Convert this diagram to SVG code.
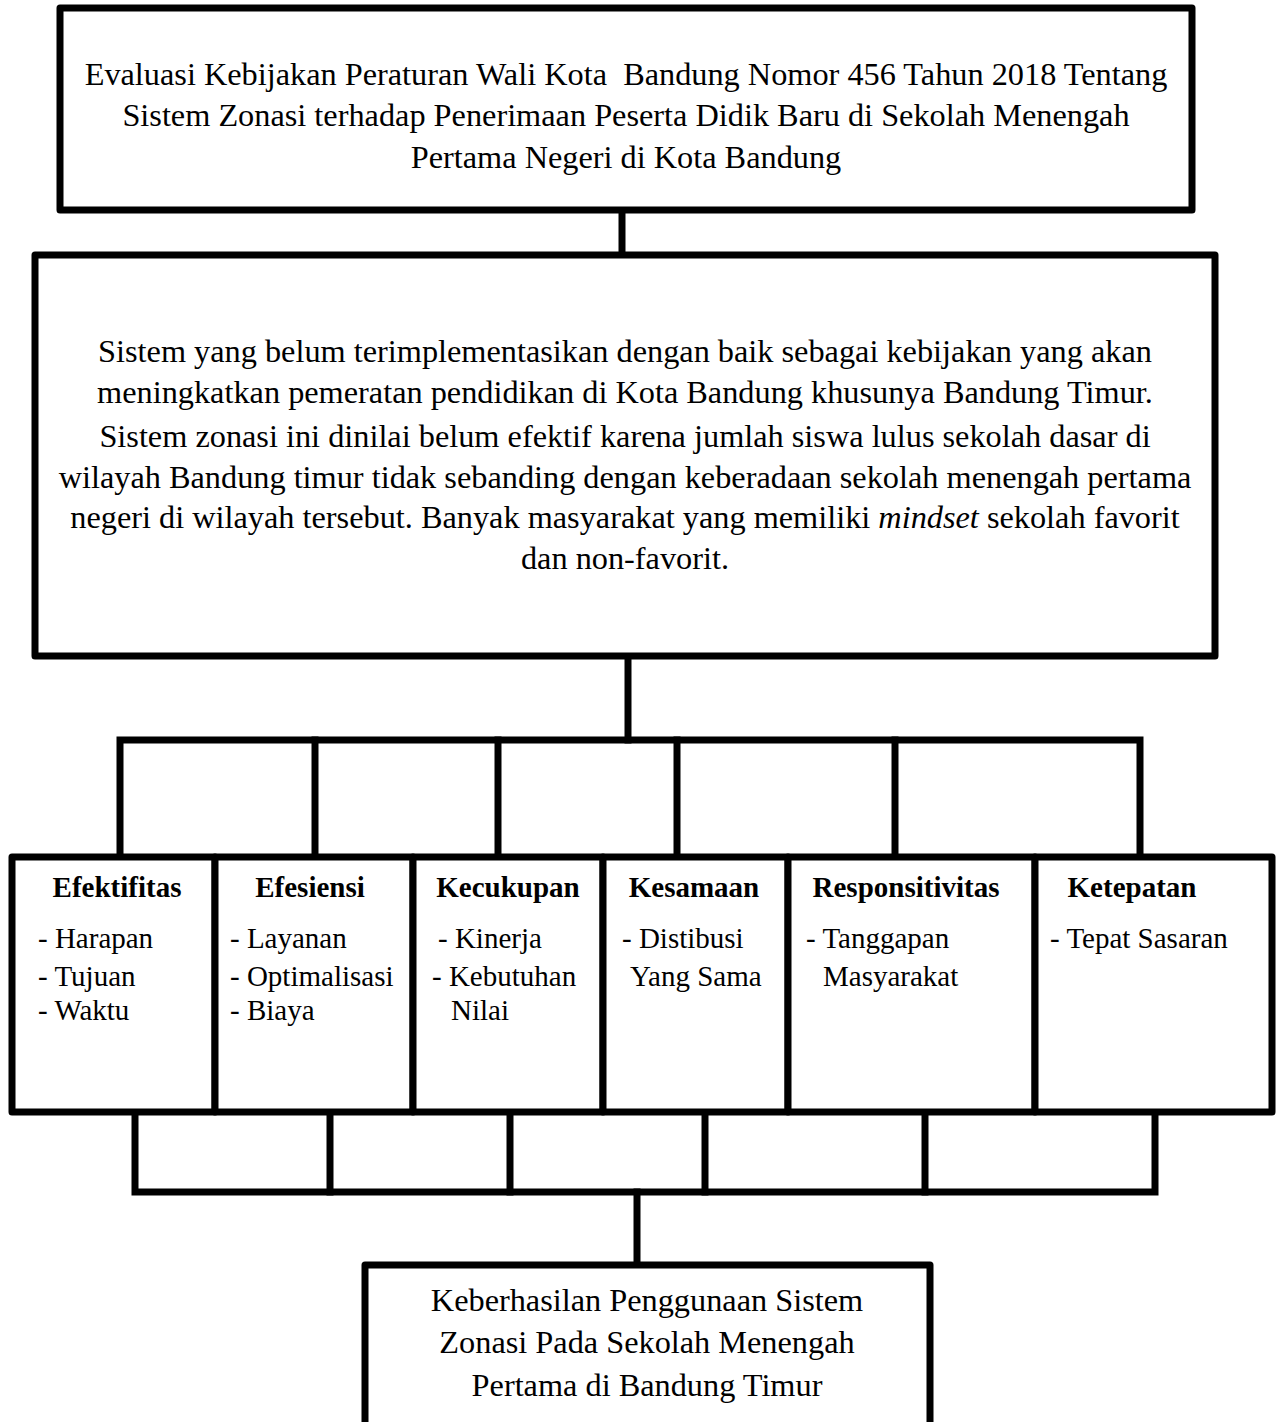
<svg xmlns="http://www.w3.org/2000/svg" width="1278" height="1422" viewBox="0 0 1278 1422">
<style>
.box{fill:#fff;stroke:#000;stroke-width:7;stroke-linejoin:round}
.ln{fill:none;stroke:#000;stroke-width:7;stroke-linejoin:miter;stroke-linecap:square}
text{font-family:"Liberation Serif","Times New Roman",serif;font-size:29px;fill:#000}
.c{text-anchor:middle;font-size:32.3px}
.h{font-weight:bold;text-anchor:middle}
</style>
<g id="connectors">
<line class="ln" x1="622" y1="210" x2="622" y2="255"/>
<line class="ln" x1="628" y1="656" x2="628" y2="740"/>
<polyline class="ln" points="120,857 120,740 1140,740 1140,857"/>
<line class="ln" x1="315" y1="740" x2="315" y2="857"/>
<line class="ln" x1="498" y1="740" x2="498" y2="857"/>
<line class="ln" x1="677" y1="740" x2="677" y2="857"/>
<line class="ln" x1="895" y1="740" x2="895" y2="857"/>
<polyline class="ln" points="135,1112 135,1192 1155,1192 1155,1112"/>
<line class="ln" x1="330" y1="1112" x2="330" y2="1192"/>
<line class="ln" x1="510" y1="1112" x2="510" y2="1192"/>
<line class="ln" x1="705" y1="1112" x2="705" y2="1192"/>
<line class="ln" x1="925" y1="1112" x2="925" y2="1192"/>
<line class="ln" x1="637" y1="1192" x2="637" y2="1265"/>
</g>
<g id="n-title">
<rect class="box" x="60" y="8" width="1132" height="202"/>
<text class="c" x="626" y="85" xml:space="preserve">Evaluasi Kebijakan Peraturan Wali Kota  Bandung Nomor 456 Tahun 2018 Tentang</text>
<text class="c" x="626" y="126">Sistem Zonasi terhadap Penerimaan Peserta Didik Baru di Sekolah Menengah</text>
<text class="c" x="626" y="168">Pertama Negeri di Kota Bandung</text>
</g>
<g id="n-problem">
<rect class="box" x="35" y="255" width="1180" height="401"/>
<text class="c" x="625" y="362">Sistem yang belum terimplementasikan dengan baik sebagai kebijakan yang akan</text>
<text class="c" x="625" y="403">meningkatkan pemeratan pendidikan di Kota Bandung khusunya Bandung Timur.</text>
<text class="c" x="625" y="447">Sistem zonasi ini dinilai belum efektif karena jumlah siswa lulus sekolah dasar di</text>
<text class="c" x="625" y="488">wilayah Bandung timur tidak sebanding dengan keberadaan sekolah menengah pertama</text>
<text class="c" x="625" y="528">negeri di wilayah tersebut. Banyak masyarakat yang memiliki <tspan font-style="italic">mindset</tspan> sekolah favorit</text>
<text class="c" x="625" y="569">dan non-favorit.</text>
</g>
<g id="n-efektifitas">
<rect class="box" x="12" y="857" width="203" height="255"/>
<text class="h" x="117" y="897">Efektifitas</text>
<text x="38" y="948">- Harapan</text>
<text x="38" y="986">- Tujuan</text>
<text x="38" y="1020">- Waktu</text>
</g>
<g id="n-efesiensi">
<rect class="box" x="215" y="857" width="198" height="255"/>
<text class="h" x="310" y="897">Efesiensi</text>
<text x="230" y="948">- Layanan</text>
<text x="230" y="986">- Optimalisasi</text>
<text x="230" y="1020">- Biaya</text>
</g>
<g id="n-kecukupan">
<rect class="box" x="413" y="857" width="190" height="255"/>
<text class="h" x="508" y="897">Kecukupan</text>
<text x="438" y="948">- Kinerja</text>
<text x="432" y="986">- Kebutuhan</text>
<text x="451" y="1020">Nilai</text>
</g>
<g id="n-kesamaan">
<rect class="box" x="603" y="857" width="185" height="255"/>
<text class="h" x="694" y="897">Kesamaan</text>
<text x="622" y="948">- Distibusi</text>
<text x="630" y="986">Yang Sama</text>
</g>
<g id="n-responsitivitas">
<rect class="box" x="788" y="857" width="247" height="255"/>
<text class="h" x="906" y="897">Responsitivitas</text>
<text x="806" y="948">- Tanggapan</text>
<text x="823" y="986">Masyarakat</text>
</g>
<g id="n-ketepatan">
<rect class="box" x="1035" y="857" width="237" height="255"/>
<text class="h" x="1132" y="897">Ketepatan</text>
<text x="1050" y="948">- Tepat Sasaran</text>
</g>
<g id="n-result">
<rect class="box" x="365" y="1265" width="565" height="200"/>
<text class="c" x="647" y="1311">Keberhasilan Penggunaan Sistem</text>
<text class="c" x="647" y="1353">Zonasi Pada Sekolah Menengah</text>
<text class="c" x="647" y="1396">Pertama di Bandung Timur</text>
</g>
</svg>
